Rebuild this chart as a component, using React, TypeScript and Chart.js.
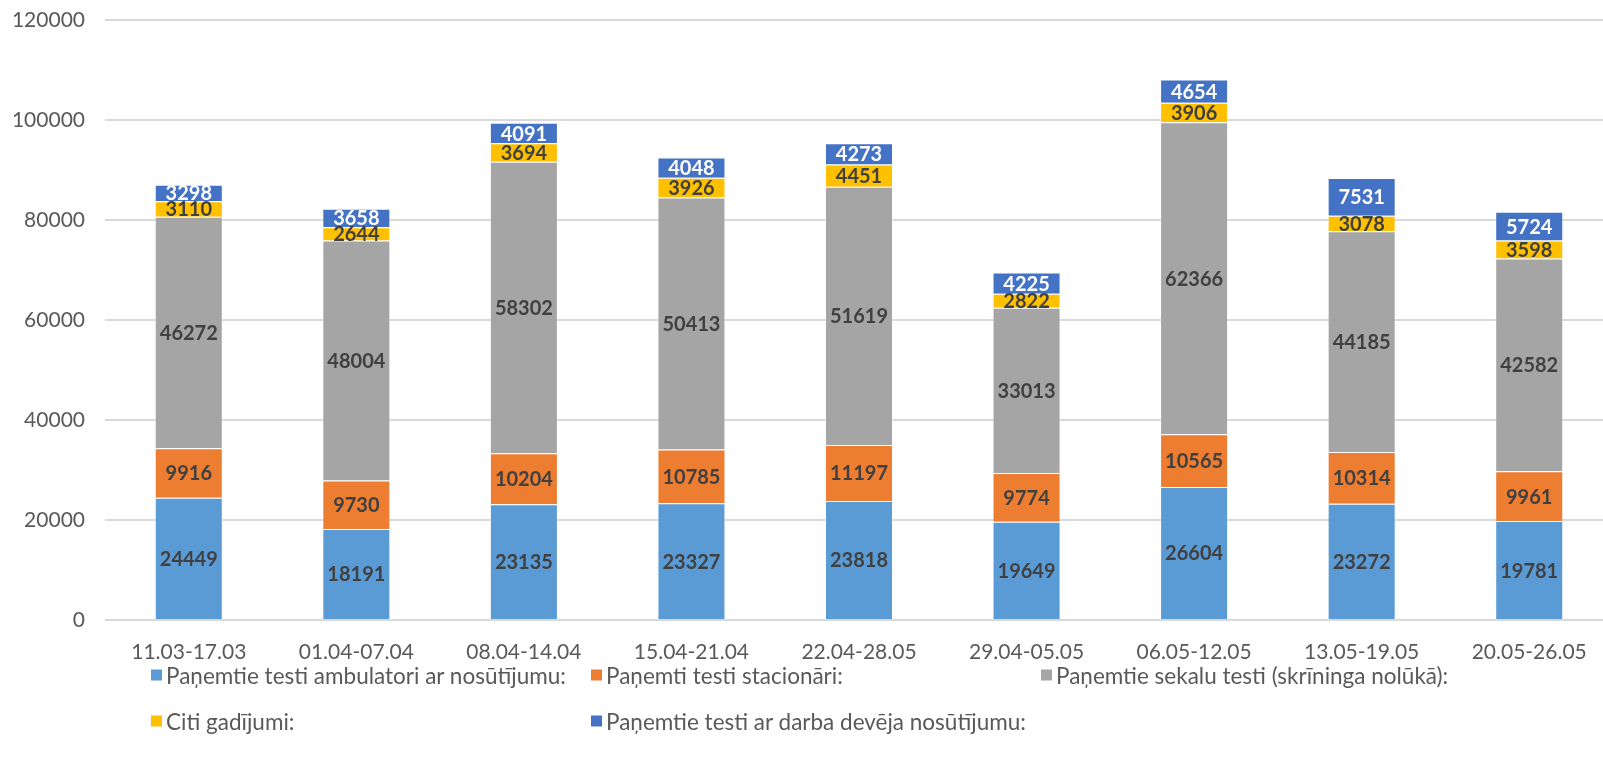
import React, { useEffect, useRef } from "react";
import { Chart, registerables } from "chart.js";

Chart.register(...registerables);

const categories = [
  "11.03-17.03",
  "01.04-07.04",
  "08.04-14.04",
  "15.04-21.04",
  "22.04-28.05",
  "29.04-05.05",
  "06.05-12.05",
  "13.05-19.05",
  "20.05-26.05",
];

const ambulatori = [24449, 18191, 23135, 23327, 23818, 19649, 26604, 23272, 19781];
const stacionari = [9916, 9730, 10204, 10785, 11197, 9774, 10565, 10314, 9961];
const sekalu = [46272, 48004, 58302, 50413, 51619, 33013, 62366, 44185, 42582];
const citi = [3110, 2644, 3694, 3926, 4451, 2822, 3906, 3078, 3598];
const darbaDeveja = [3298, 3658, 4091, 4048, 4273, 4225, 4654, 7531, 5724];

const seriesNames = [
  "Paņemtie testi ambulatori ar nosūtījumu:",
  "Paņemti testi stacionāri:",
  "Paņemtie sekalu testi (skrīninga nolūkā):",
  "Citi gadījumi:",
  "Paņemtie testi ar darba devēja nosūtījumu:",
];
const seriesColors = ["#5B9BD5", "#ED7D31", "#A5A5A5", "#FFC000", "#4472C4"];
const labelColors = ["#404040", "#404040", "#404040", "#404040", "#FFFFFF"];

const yTicks = [0, 20000, 40000, 60000, 80000, 100000, 120000];

const FONT = 'Lato, "Open Sans", "Noto Sans", sans-serif';

const valueLabels = {
  id: "valueLabels",
  afterDatasetsDraw(chart: any) {
    const ctx = chart.ctx;
    ctx.save();
    ctx.font = `bold 20px ${FONT}`;
    ctx.textAlign = "center";
    ctx.textBaseline = "middle";
    chart.data.datasets.forEach((ds: any, i: number) => {
      const meta = chart.getDatasetMeta(i);
      meta.data.forEach((el: any, j: number) => {
        const v = ds.data[j];
        ctx.fillStyle = labelColors[i];
        ctx.fillText(String(v), el.x, (el.y + el.base) / 2 + 1);
      });
    });
    ctx.restore();
  },
};

export default function App() {
  const ref = useRef<HTMLCanvasElement | null>(null);

  useEffect(() => {
    if (!ref.current) return;
    const allData = [ambulatori, stacionari, sekalu, citi, darbaDeveja];
    const chart = new Chart(ref.current, {
      type: "bar",
      data: {
        labels: categories,
        datasets: allData.map((d, i) => ({
          label: seriesNames[i],
          data: d,
          backgroundColor: seriesColors[i],
          borderColor: "rgba(255,255,255,0.35)",
          borderWidth: 1,
          categoryPercentage: 1,
          barPercentage: 0.406,
        })),
      },
      options: {
        animation: false,
        responsive: false,
        devicePixelRatio: 1,
        layout: { padding: { top: 20, left: 0, right: 0, bottom: 0 } },
        plugins: {
          legend: { display: false },
          tooltip: { enabled: false },
        },
        scales: {
          x: {
            stacked: true,
            grid: { display: false, drawTicks: false },
            border: { display: false },
            ticks: {
              color: "#595959",
              font: { family: FONT, size: 21 },
              padding: 20,
              maxRotation: 0,
              autoSkip: false,
            },
            afterFit(scale: any) {
              scale.height = 142;
              scale.paddingLeft = 0;
              scale.paddingRight = 0;
            },
          },
          y: {
            stacked: true,
            min: 0,
            max: 120000,
            afterBuildTicks(scale: any) {
              scale.ticks = yTicks.map((v) => ({ value: v }));
            },
            grid: { color: "#D9D9D9", lineWidth: 2, drawTicks: false },
            border: { display: false },
            ticks: {
              color: "#595959",
              font: { family: FONT, size: 21 },
              padding: 20,
              callback: (v: any) => String(v),
            },
            afterFit(scale: any) {
              scale.width = 105;
              scale.paddingTop = 0;
              scale.paddingBottom = 0;
            },
          },
        },
      },
      plugins: [valueLabels],
    });
    return () => chart.destroy();
  }, []);

  const legendItems = [
    { i: 0, left: 151, top: 675 },
    { i: 1, left: 591, top: 675 },
    { i: 2, left: 1041, top: 675 },
    { i: 3, left: 151, top: 721 },
    { i: 4, left: 591, top: 721 },
  ];

  return (
    <div
      style={{
        position: "fixed",
        left: 0,
        top: 0,
        width: 1603,
        height: 762,
        overflow: "hidden",
        background: "#fff",
      }}
    >
      <canvas
        ref={ref}
        width={1613}
        height={762}
        style={{ position: "absolute", left: 0, top: 0, width: 1613, height: 762 }}
      />
      {legendItems.map((it) => (
        <div
          key={it.i}
          style={{
            position: "absolute",
            left: it.left,
            top: it.top,
            transform: "translateY(-50%)",
            display: "flex",
            alignItems: "center",
            fontFamily: FONT,
            fontSize: 22.5,
            color: "#595959",
            whiteSpace: "nowrap",
          }}
        >
          <span
            style={{
              display: "inline-block",
              width: 11,
              height: 11,
              background: seriesColors[it.i],
              marginRight: 4,
            }}
          />
          {seriesNames[it.i]}
        </div>
      ))}
    </div>
  );
}
